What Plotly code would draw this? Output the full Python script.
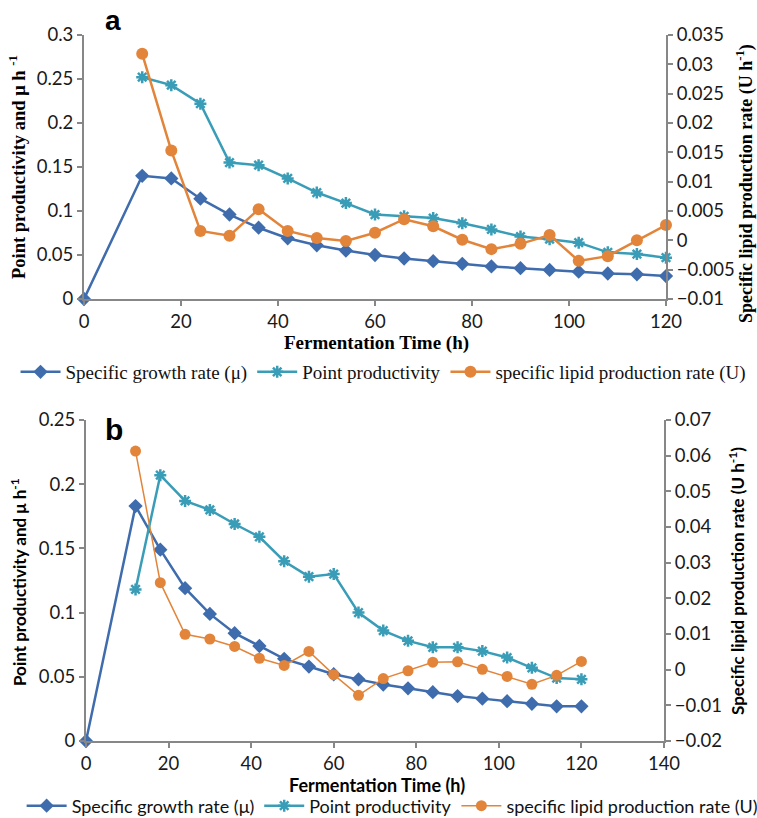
import plotly.graph_objects as go

W, H = 757, 818

# ---------------- data ----------------
time_a = [0, 12, 18, 24, 30, 36, 42, 48, 54, 60, 66, 72, 78, 84, 90, 96, 102, 108, 114, 120]
growth_a = [0, 0.140, 0.137, 0.114, 0.096, 0.081, 0.069, 0.061, 0.055, 0.050, 0.046, 0.043,
            0.040, 0.037, 0.035, 0.033, 0.031, 0.029, 0.028, 0.026]
time_pa = time_a[1:]
prod_a = [0.252, 0.243, 0.222, 0.155, 0.152, 0.137, 0.121, 0.109, 0.096, 0.094, 0.092,
          0.086, 0.079, 0.071, 0.068, 0.064, 0.053, 0.051, 0.047]
lipid_a = [0.0318, 0.0153, 0.0016, 0.0008, 0.0053, 0.0016, 0.0004, -0.0001, 0.0013, 0.0036,
           0.0024, 0.0001, -0.0015, -0.0006, 0.0009, -0.0035, -0.0027, 0.0000, 0.0026]

time_b = time_a
growth_b = [0, 0.183, 0.149, 0.119, 0.099, 0.084, 0.074, 0.064, 0.058, 0.052, 0.048, 0.044,
            0.041, 0.038, 0.035, 0.033, 0.031, 0.029, 0.027, 0.027]
time_pb = time_a[1:]
prod_b = [0.118, 0.207, 0.187, 0.180, 0.169, 0.159, 0.140, 0.128, 0.130, 0.100, 0.086,
          0.078, 0.073, 0.073, 0.070, 0.065, 0.057, 0.049, 0.048]
lipid_b = [0.0613, 0.0244, 0.0099, 0.0086, 0.0065, 0.0032, 0.0012, 0.0051, -0.0014, -0.0072,
           -0.0025, -0.0003, 0.0021, 0.0022, 0.0001, -0.0019, -0.0041, -0.0016, 0.0023]

names = ["Specific growth rate (\u03bc)", "Point productivity", "specific lipid production rate (U)"]
BLUE, TEAL, ORANGE = "#3F6CAD", "#3A9DB7", "#E2853A"
AX = "#878787"
SERIF = "Liberation Serif"
SANS = "Lato"

fig = go.Figure()

def add_series(xax, yl, yr, tg, tp, g, p, l, legend, lw_orange):
    fig.add_trace(go.Scatter(x=tg, y=g, name=names[0], mode="lines+markers", xaxis=xax, yaxis=yl,
                             line=dict(color=BLUE, width=2.5), cliponaxis=False,
                             marker=dict(symbol="diamond", size=11, color=BLUE), legend=legend))
    fig.add_trace(go.Scatter(x=tp, y=p, name=names[1], mode="lines+markers", xaxis=xax, yaxis=yl,
                             line=dict(color=TEAL, width=2.5), cliponaxis=False,
                             marker=dict(symbol="asterisk-open", size=10, color=TEAL,
                                         line=dict(color=TEAL, width=2.5)), legend=legend))
    fig.add_trace(go.Scatter(x=tp, y=l, name=names[2], mode="lines+markers", xaxis=xax, yaxis=yr,
                             line=dict(color=ORANGE, width=lw_orange), cliponaxis=False,
                             marker=dict(symbol="circle", size=12 if lw_orange > 2 else 11, color=ORANGE),
                             legend=legend))

add_series("x", "y", "y2", time_a, time_pa, growth_a, prod_a, lipid_a, "legend", 2.5)
add_series("x2", "y3", "y4", time_b, time_pb, growth_b, prod_b, lipid_b, "legend2", 1.5)

def py(px):
    return 1 - px / H

def px_(x):
    return x / W

tickfont = dict(family=SANS, size=18.5, color="#1a1a1a")
common = dict(showgrid=False, zeroline=False, showline=True, linecolor=AX, linewidth=2,
              ticks="outside", tickcolor=AX, ticklen=5, tickwidth=1.5, tickfont=tickfont,
              automargin=False)

fig.update_layout(
    width=W, height=H, margin=dict(l=0, r=0, t=0, b=0, autoexpand=False),
    paper_bgcolor="white", plot_bgcolor="white",
    xaxis=dict(domain=[px_(84), px_(666)], anchor="y", range=[0, 120], dtick=20, **common),
    yaxis=dict(domain=[py(299), py(35)], anchor="x", range=[0, 0.3], dtick=0.05, **common),
    yaxis2=dict(overlaying="y", side="right", anchor="x", range=[-0.01, 0.035], dtick=0.005, **common),
    xaxis2=dict(domain=[px_(86), px_(664)], anchor="y3", range=[0, 140], dtick=20, **common),
    yaxis3=dict(domain=[py(741), py(420)], anchor="x2", range=[0, 0.25], dtick=0.05, **common),
    yaxis4=dict(overlaying="y3", side="right", anchor="x2", range=[-0.02, 0.07], dtick=0.01, **common),
    legend=dict(orientation="h", x=0.506, xanchor="center", y=py(372), yanchor="middle",
                xref="container", yref="container",
                font=dict(family=SERIF, size=19, color="#111"), bgcolor="rgba(0,0,0,0)",
                itemwidth=40, tracegroupgap=0),
    legend2=dict(orientation="h", x=0.518, xanchor="center", y=py(806), yanchor="middle",
                 xref="container", yref="container",
                 font=dict(family=SANS, size=18, color="#111"), bgcolor="rgba(0,0,0,0)",
                 itemwidth=40, tracegroupgap=0),
    showlegend=True,
)

ann = []
# panel letters
ann.append(dict(text="<b>a</b>", x=px_(113), y=py(20), xref="paper", yref="paper", showarrow=False,
                font=dict(family="Liberation Sans", size=28, color="black"), xanchor="center", yanchor="middle"))
ann.append(dict(text="<b>b</b>", x=px_(114), y=py(429), xref="paper", yref="paper", showarrow=False,
                font=dict(family="Liberation Sans", size=30, color="black"), xanchor="center", yanchor="middle"))
# panel a titles (serif bold)
ann.append(dict(text="<b>Point productivity and \u03bc h <sup>-1</sup></b>", x=px_(17), y=py(167),
                xref="paper", yref="paper", showarrow=False, textangle=-90,
                font=dict(family=SERIF, size=18.5, color="black"), xanchor="center", yanchor="middle"))
ann.append(dict(text="<b>Specific lipid production rate (U h<sup>-1</sup>)</b>", x=px_(745), y=py(184),
                xref="paper", yref="paper", showarrow=False, textangle=-90,
                font=dict(family=SERIF, size=18, color="black"), xanchor="center", yanchor="middle"))
ann.append(dict(text="<b>Fermentation Time (h)</b>", x=px_(376), y=py(343),
                xref="paper", yref="paper", showarrow=False,
                font=dict(family=SERIF, size=19, color="black"), xanchor="center", yanchor="middle"))
# panel b titles (sans bold)
ann.append(dict(text="<b>Point productivity and \u03bc h<sup>-1</sup></b>", x=px_(18), y=py(582),
                xref="paper", yref="paper", showarrow=False, textangle=-90,
                font=dict(family=SANS, size=17, color="black"), xanchor="center", yanchor="middle"))
ann.append(dict(text="<b>Specific lipid production rate (U h<sup>-1</sup>)</b>", x=px_(736), y=py(581),
                xref="paper", yref="paper", showarrow=False, textangle=-90,
                font=dict(family=SANS, size=17, color="black"), xanchor="center", yanchor="middle"))
ann.append(dict(text="<b>Fermentation Time (h)</b>", x=px_(377), y=py(785),
                xref="paper", yref="paper", showarrow=False,
                font=dict(family=SANS, size=18, color="black"), xanchor="center", yanchor="middle"))
fig.update_layout(annotations=ann)

fig.write_html("out.html")
